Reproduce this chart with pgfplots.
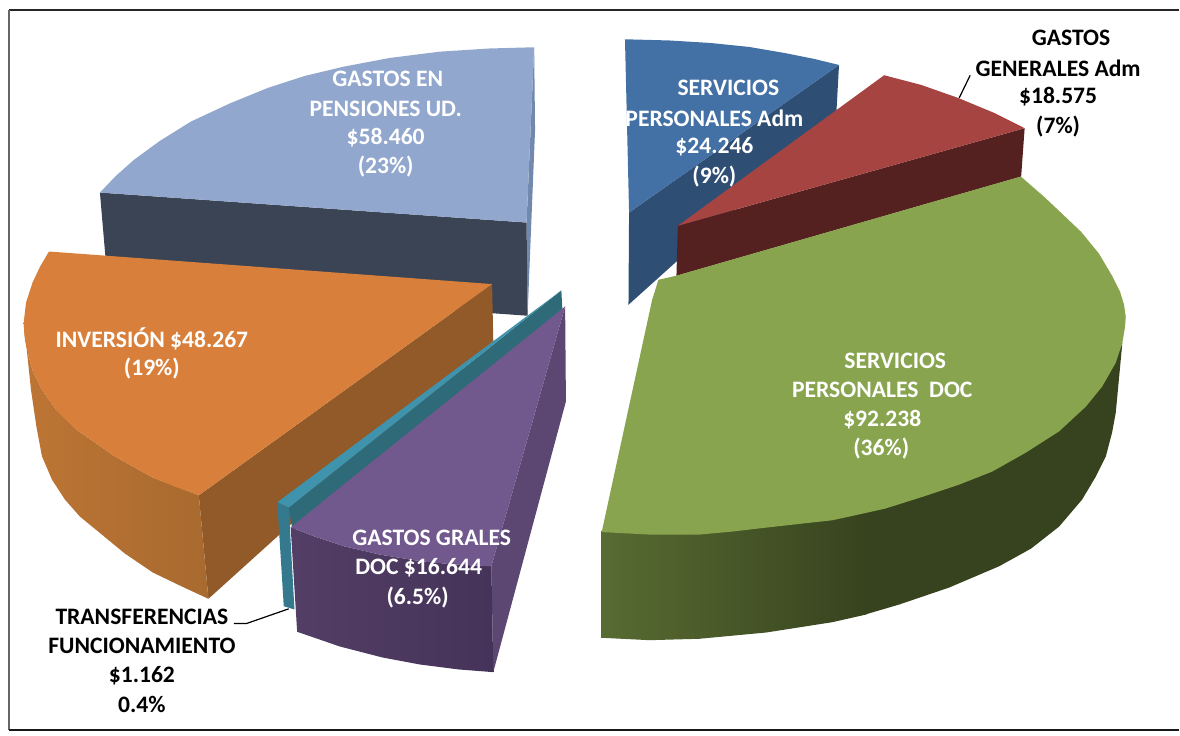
\documentclass[border=0pt]{standalone}
\usepackage{pgfplots}
\pgfplotsset{compat=1.18}
\usepackage{fontspec}
\setmainfont{Carlito}
\definecolor{bluetop}{HTML}{4471A5}
\definecolor{blueside}{HTML}{2F4E74}
\definecolor{redtop}{HTML}{A64442}
\definecolor{redside}{HTML}{552120}
\definecolor{greentop}{HTML}{88A44F}
\definecolor{greenA}{HTML}{586B32}
\definecolor{greenB}{HTML}{37431E}
\definecolor{lbtop}{HTML}{92A7CD}
\definecolor{lbside}{HTML}{3B4454}
\definecolor{lbthin}{HTML}{7189AD}
\definecolor{ortop}{HTML}{D8803B}
\definecolor{orside}{HTML}{915A28}
\definecolor{orA}{HTML}{BD7534}
\definecolor{orB}{HTML}{A86A2F}
\definecolor{tealtop}{HTML}{3F93AD}
\definecolor{tealside}{HTML}{2E6A78}
\definecolor{tealfront}{HTML}{35798F}
\definecolor{purtop}{HTML}{71588D}
\definecolor{purside}{HTML}{5C4672}
\definecolor{purA}{HTML}{533F66}
\definecolor{purB}{HTML}{46335A}
\newcommand{\lab}[4]{\node[text=#3,font=\fontsize{11.8pt}{13pt}\selectfont\bfseries,inner sep=0pt,anchor=center] at (axis cs:#1,#2) {#4};}
\begin{document}
\begin{tikzpicture}
\begin{axis}[scale only axis,width=590pt,height=368pt,xmin=0,xmax=1180,ymin=0,ymax=736,y dir=reverse,hide axis,clip=false]
% page extent
\addplot[draw=none,fill=none] coordinates {(0,0)(1180,0)(1180,736)(0,736)} --cycle;
% frame
\addplot[draw=black!85,line width=1pt] coordinates {(9,10)(1180,10)};
\addplot[draw=black!60,line width=0.9pt] coordinates {(9,10)(9,731)};
\addplot[draw=black!90,line width=1pt] coordinates {(9,731)(1180,731)};
% light blue slice
\addplot[fill=lbthin,draw=none] coordinates {(534.6,47.3)(535.5,130)(528,316)(527,222.7)} --cycle;
\addplot[fill=lbside,draw=none] coordinates {(100,192.7)(527,222.7)(528,316)(108,286)} --cycle;
\addplot[fill=lbtop,draw=none] coordinates {(534.6,47.3)(490,48.5)(440,51.7)(390,58)(344,66.7)(305,76)(268,88)(230,103.5)(191,121.7)(160,141)(134,160)(116,176)(100,192.7)(527,222.7)} --cycle;
% orange slice
\addplot[fill=orside,draw=none] coordinates {(492.5,284.3)(493.7,341.7)(208.6,599.3)(199,495.7)} --cycle;
\addplot[draw=none,left color=orA,right color=orB] coordinates {(23.7,323)(24.5,335)(26.8,350)(31,390)(36.4,426.7)(42,456.7)(52,480)(65,500)(80,517)(99.5,533)(125,554)(153,573)(180,586)(208.6,599.3)(199,495.7)(153,478)(114.8,456.7)(76.5,430)(56,410)(42,390)(33,372)(28.7,356.7)} --cycle;
\addplot[fill=ortop,draw=none] coordinates {(49,251.7)(492.5,284.3)(199,495.7)(175,487)(153,478)(114.8,456.7)(76.5,430)(56,410)(42,390)(33,372)(28.7,356.7)(25,340)(23.7,323)(26,303)(32.5,283)(40,267)} --cycle;
% teal slice
\addplot[fill=tealside,draw=none] coordinates {(561.8,290.7)(563,312)(293,532)(289,508)} --cycle;
\addplot[fill=tealtop,draw=none] coordinates {(561.8,290.7)(289,508)(277.5,502.7)} --cycle;
\addplot[fill=tealfront,draw=none] coordinates {(277.5,502.7)(289,508)(294.7,610)(284,606.7)} --cycle;
% purple slice
\addplot[fill=purside,draw=none] coordinates {(565.6,306.7)(566.4,401.7)(493.7,672.7)(491.8,566.7)} --cycle;
\addplot[draw=none,left color=purA,right color=purB] coordinates {(290.9,527.7)(315,537)(344.4,546.7)(380,555)(421,561.7)(455,565)(491.8,566.7)(493.7,672.7)(459,670)(420,665)(382.7,658)(340,647)(297.4,632.3)} --cycle;
\addplot[fill=purtop,draw=none] coordinates {(565.6,306.7)(290.9,527.7)(315,537)(344.4,546.7)(380,555)(421,561.7)(455,565)(491.8,566.7)} --cycle;
% dark-blue slice
\addplot[fill=blueside,draw=none] coordinates {(839.7,65)(836.8,118)(629,305)(629.6,212.7)} --cycle;
\addplot[fill=bluetop,draw=none] coordinates {(625.5,39.3)(670,40.5)(711,43)(750,47)(785,53)(815,59)(839.7,65)(629.6,212.7)} --cycle;
% red slice
\addplot[fill=redside,draw=none] coordinates {(678.4,226)(1025.5,128.3)(1022,176.7)(677,276)} --cycle;
\addplot[fill=redtop,draw=none] coordinates {(678.4,226)(884.9,75.3)(922,85)(958.9,98)(995,113)(1025.5,128.3)} --cycle;
% green slice
\addplot[draw=none,left color=greenA,right color=greenB] coordinates {(602,531)(650,533)(700,533)(767,526)(833,518)(867,510)(867,615)(833,622.7)(767,633)(700,639.3)(650,640.7)(602,638.3)} --cycle;
\addplot[fill=greenB,draw=none] coordinates {(866,510)(924,495)(960,483)(993,470)(1026.7,451)(1060,430)(1086.7,405)(1103,385)(1116.7,361)(1123.3,343)(1116.7,413)(1113,433)(1106.7,457)(1096.7,477)(1083,500)(1060,527)(1032,549)(1000,566.7)(950,588)(900,605)(866,615)} --cycle;
\addplot[fill=greentop,draw=none] coordinates {(602.2,532.5)(652.7,300)(659,280)(676.6,276)(1021.7,176.7)(1045,197)(1062,213)(1082,232)(1100,254)(1113,276)(1121,292)(1125,305)(1126.7,317)(1126,327)(1123.3,343)(1116.7,363)(1103,387)(1086.7,407)(1060,431.7)(1026.7,453)(993,472)(960,485)(924,497)(886,509)(850,517)(833,520.7)(767,528)(733,532)(700,535)(650,535)} --cycle;
% leader lines
\addplot[draw=black,line width=0.6pt] coordinates {(971,75.3)(960,98)};
\addplot[draw=black,line width=0.6pt] coordinates {(234,624)(246.8,624)(289,609.3)};
% labels
\lab{388}{79}{white}{GASTOS EN}
\lab{386}{109}{white}{PENSIONES UD.}
\lab{386}{138}{white}{\$58.460}
\lab{386}{167}{white}{(23\%)}
\lab{729}{88}{white}{SERVICIOS}
\lab{715}{118}{white}{PERSONALES Adm}
\lab{715}{147}{white}{\$24.246}
\lab{715}{177}{white}{(9\%)}
\lab{1072}{38}{black}{GASTOS}
\lab{1059}{68}{black}{GENERALES Adm}
\lab{1059}{97}{black}{\$18.575}
\lab{1059}{127}{black}{(7\%)}
\lab{896}{361}{white}{SERVICIOS}
\lab{883}{390}{white}{PERSONALES\ \ DOC}
\lab{883}{420}{white}{\$92.238}
\lab{882}{449}{white}{(36\%)}
\lab{152}{339}{white}{INVERSIÓN \$48.267}
\lab{152}{369}{white}{(19\%)}
\lab{432}{538}{white}{GASTOS GRALES}
\lab{419}{568}{white}{DOC \$16.644}
\lab{418}{598}{white}{(6.5\%)}
\lab{142}{617}{black}{TRANSFERENCIAS}
\lab{142}{646}{black}{FUNCIONAMIENTO}
\lab{142}{676}{black}{\$1.162}
\lab{142}{705}{black}{0.4\%}
\end{axis}
\end{tikzpicture}
\end{document}
